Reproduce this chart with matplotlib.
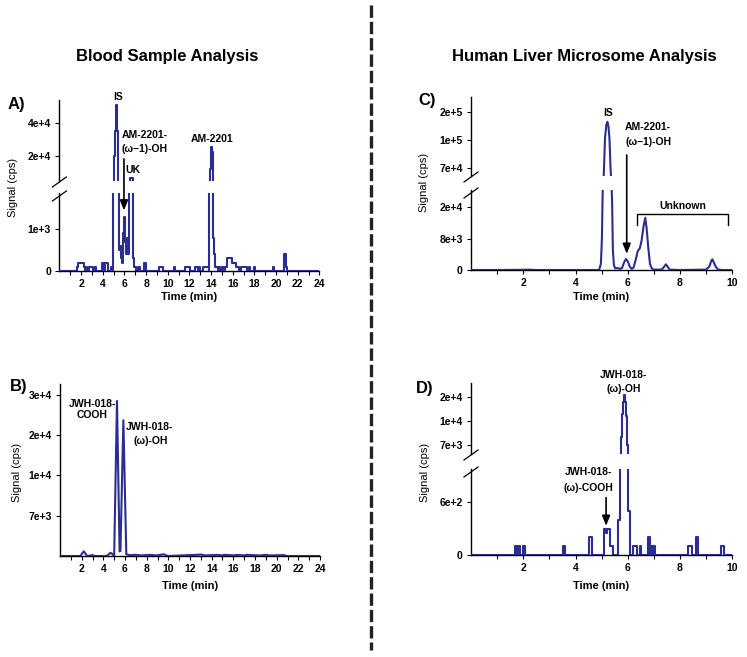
import numpy as np
import matplotlib
matplotlib.use("Agg")
import matplotlib.pyplot as plt
from matplotlib.lines import Line2D
from matplotlib.patches import ConnectionPatch
from matplotlib import font_manager

# ---------------- data ----------------
# A) blood sample, AM-2201: time where the level changes -> new level (cps)
t_a = [0.0, 1.6, 1.75, 2.25, 2.4, 2.45, 2.55, 2.75, 3.1, 3.3, 3.4,
       3.9, 4.1, 4.2, 4.45, 4.8, 4.9,
       4.98, 5.02, 5.08, 5.14, 5.22, 5.3, 5.38, 5.44,
       5.5, 5.6, 5.7, 5.8, 5.88, 5.95, 6.05, 6.12, 6.22, 6.32,
       6.42, 6.55, 6.75, 6.82, 6.9, 7.05,
       7.3, 7.4, 7.85, 8.0, 9.2, 9.6, 10.55, 10.7, 11.6, 12.1,
       12.5, 12.8, 12.9, 13.0, 13.3, 13.8,
       13.84, 13.9, 13.96, 14.02, 14.08, 14.14, 14.2, 14.3, 14.4,
       14.6, 14.7, 14.85, 15.0, 15.15, 15.3,
       15.5, 15.95, 16.3, 16.6, 16.8, 17.3, 17.5, 17.6, 17.95, 18.1,
       19.75, 19.85, 20.7, 20.95, 21.05, 24.0]
s_a = [0, 100, 200, 100, 0, 100, 0, 100, 0, 100, 0,
       200, 0, 200, 0, 100, 0,
       3000, 8000, 20000, 35000, 51000, 35000, 15000, 3000,
       500, 600, 300, 200, 900, 1300, 700, 400, 800, 400,
       3000, 6700, 3000, 300, 100, 0,
       100, 0, 200, 0, 100, 0, 100, 0, 100, 0,
       100, 0, 100, 0, 100, 0,
       3000, 12000, 22000, 25500, 22000, 12000, 800, 400, 100,
       0, 100, 0, 100, 0, 100,
       300, 200, 100, 0, 100, 0, 100, 0, 100, 0,
       100, 0, 400, 100, 0, 0]

# B) blood sample, JWH-018
t_b = [0.0, 1.9, 2.05, 2.2, 2.35, 2.5, 3.0, 3.2, 4.3, 4.5, 4.65, 4.8, 5.0,
       5.26, 5.5, 5.58, 5.85, 6.12, 6.4, 7.0, 7.5, 8.3, 8.9, 9.6, 9.8, 10.0,
       11.9, 12.5, 13.0, 13.4, 14.6, 14.9, 15.2, 16.1, 16.3, 17.0, 17.2,
       18.5, 19.0, 19.3, 20.7, 20.9, 24.0]
s_b = [0, 0, 500, 800, 400, 0, 150, 0, 0, 300, 550, 400, 0,
       28500, 800, 900, 23700, 300, 150, 200, 100, 200, 100, 300, 100, 0,
       150, 200, 250, 100, 200, 100, 200, 100, 200, 100, 200,
       100, 200, 100, 150, 0, 0]

# C) human liver microsomes, AM-2201
t_c = [0.0, 1.0, 2.3, 2.5, 4.9,
       4.97, 5.01, 5.04, 5.08, 5.13, 5.18, 5.22, 5.26, 5.3, 5.34, 5.37, 5.4, 5.43, 5.47, 5.52,
       5.6, 5.7, 5.78, 5.85, 5.93, 6.0, 6.08, 6.15,
       6.22, 6.3, 6.38, 6.46, 6.53, 6.6, 6.67, 6.72, 6.78, 6.85, 6.92, 7.0,
       7.3, 7.4, 7.46, 7.52, 7.6, 8.0,
       9.0, 9.12, 9.2, 9.24, 9.3, 9.37, 9.45, 9.6, 10.0]
s_c = [0, 0, 80, 0, 0,
       1500, 8000, 26000, 62000, 110000, 155000, 166000, 150000, 105000, 70000, 55000, 22000, 5000, 1200, 400,
       500, 300, 500, 1800, 2800, 2200, 800, 300,
       600, 2500, 4800, 5500, 7500, 12500, 15900, 12000, 6000, 1500, 400, 100,
       100, 900, 1450, 900, 100, 0,
       100, 900, 2400, 2700, 1800, 800, 150, 0, 0]

# D) human liver microsomes, JWH-018: time where the level changes -> new level
t_d = [0, 1.68, 1.75, 1.81, 1.87, 2.00, 2.06, 3.53, 3.60, 4.53, 4.63,
       5.09, 5.17, 5.22, 5.32, 5.42,
       5.62, 5.70, 5.74, 5.78, 5.82, 5.86, 5.90, 5.94, 5.98, 6.02, 6.10,
       6.20, 6.35, 6.45, 6.52, 6.77, 6.84, 6.88, 6.94, 6.97, 7.03,
       8.30, 8.45, 8.60, 8.70, 9.57, 9.70, 10.0]
s_d = [0, 100, 0, 100, 0, 100, 0, 100, 0, 200, 0,
       300, 250, 300, 100, 0,
       400, 5000, 8000, 13000, 18000, 20800, 18000, 12000, 7000, 500, 0,
       100, 0, 100, 0, 200, 0, 100, 0, 100, 0,
       100, 0, 200, 0, 100, 0, 0]

# y tick values / labels of every axis segment
ytk_a_up, ylb_a_up = [2e4, 4e4], ["2e+4", "4e+4"]
ytk_a_lo, ylb_a_lo = [0, 1e3], ["0", "1e+3"]
ytk_b, ylb_b = [7e3, 1e4, 2e4, 3e4], ["7e+3", "1e+4", "2e+4", "3e+4"]
ytk_c_up, ylb_c_up = [7e4, 1e5, 2e5], ["7e+4", "1e+5", "2e+5"]
ytk_c_lo, ylb_c_lo = [0, 8e3, 2e4], ["0", "8e+3", "2e+4"]
ytk_d_up, ylb_d_up = [7e3, 1e4, 2e4], ["7e+3", "1e+4", "2e+4"]
ytk_d_lo, ylb_d_lo = [0, 600], ["0", "6e+2"]

# ---------------- figure ----------------
plt.rcParams["font.family"] = ["Liberation Sans", "DejaVu Sans"]
W, H = 747, 657
fig = plt.figure(figsize=(W / 100, H / 100), dpi=100)
blue = "#2b2d90"
LW = 1.5

names = {f.name for f in font_manager.fontManager.ttflist}
if "Liberation Sans Narrow" in names:
    title_font, title_size = ["Liberation Sans Narrow", "Liberation Sans"], 14.5
else:
    title_font, title_size = ["Liberation Sans"], 12


def add_ax(l, t, r, b):
    # axes box given in pixels (top-left origin)
    return fig.add_axes([l / W, 1 - b / H, (r - l) / W, (b - t) / H])


def ftext(x, y, s, **kw):
    fig.text(x / W, 1 - y / H, s, **kw)


def pw_scale(ax, vals, pos):
    vals = np.asarray(vals, float)
    pos = np.asarray(pos, float)
    ax.set_yscale("function",
                  functions=(lambda y: np.interp(y, vals, pos),
                             lambda p: np.interp(p, pos, vals)))


def style(ax, xmax, bottom=True):
    ax.set_facecolor("none")
    for sp in ["top", "right"]:
        ax.spines[sp].set_visible(False)
    ax.spines["left"].set_linewidth(1.0)
    ax.spines["bottom"].set_linewidth(1.0)
    ax.set_xlim(0, xmax)
    ax.tick_params(direction="out", length=3, width=0.8, pad=3, labelsize=7.5)
    ticks = np.arange(1, xmax + 1)
    if bottom:
        ax.set_xticks(ticks, [str(int(v)) if v % 2 == 0 else "" for v in ticks],
                      fontweight="bold")
        ax.tick_params(axis="x", pad=2.5)
    else:
        ax.spines["bottom"].set_visible(False)
        ax.tick_params(axis="x", bottom=False, labelbottom=False)


def slash(x, y):
    fig.add_artist(Line2D([(x - 7) / W, (x + 7) / W], [1 - (y + 5) / H, 1 - (y - 5) / H],
                          color="black", lw=0.9))


def break_marks(x, y_up, y_lo):
    slash(x, y_up + 1)
    slash(x, y_lo + 3)


# ---- A) ----
a_up = add_ax(59.4, 100, 319.4, 181)
a_lo = add_ax(59.4, 193, 319.4, 271)
for ax in (a_up, a_lo):
    ax.plot(t_a, s_a, drawstyle="steps-post", color=blue, lw=LW, zorder=3)
style(a_up, 24, bottom=False)
style(a_lo, 24)
a_up.set_ylim(4670, 53800)
a_lo.set_ylim(0, 1870)
a_up.set_yticks(ytk_a_up, ylb_a_up, fontweight="bold")
a_lo.set_yticks(ytk_a_lo, ylb_a_lo, fontweight="bold")
break_marks(59.4, 181, 193)

# ---- B) ----
b = add_ax(60, 384, 320, 556)
pw_scale(b, [0, 7e3, 1e4, 2e4, 3e4, 4e4], [0, 1, 2, 3, 4, 5])
b.plot(t_b, s_b, color=blue, lw=LW, zorder=3)
style(b, 24)
b.set_ylim(0, 32700)
b.set_yticks(ytk_b, ylb_b, fontweight="bold")

# ---- C) ----
c_up = add_ax(471, 96.7, 732.3, 176)
c_lo = add_ax(471, 190, 732.3, 270)
pw_scale(c_up, [4e4, 7e4, 1e5, 2e5, 3e5], [-1, 0, 1, 2, 3])
pw_scale(c_lo, [0, 8e3, 2e4, 3.2e4], [0, 1, 2, 3])
for ax in (c_up, c_lo):
    ax.plot(t_c, s_c, color=blue, lw=LW, zorder=3)
style(c_up, 10, bottom=False)
style(c_lo, 10)
c_up.set_ylim(61400, 256000)
c_lo.set_ylim(0, 26500)
c_up.set_yticks(ytk_c_up, ylb_c_up, fontweight="bold")
c_lo.set_yticks(ytk_c_lo, ylb_c_lo, fontweight="bold")
break_marks(471, 176, 190)
c_lo.plot([6.37, 6.37, 9.83, 9.83], [13100, 17300, 17300, 13100], color="black", lw=1.0)

# ---- D) ----
d_up = add_ax(471, 383, 732.3, 454)
d_lo = add_ax(471, 469, 732.3, 555)
pw_scale(d_up, [4e3, 7e3, 1e4, 2e4, 3e4], [-1, 0, 1, 2, 3])
for ax in (d_up, d_lo):
    ax.plot(t_d, s_d, drawstyle="steps-post", color=blue, lw=LW, zorder=3)
style(d_up, 10, bottom=False)
style(d_lo, 10)
d_up.set_ylim(5875, 25800)
d_lo.set_ylim(0, 974)
d_up.set_yticks(ytk_d_up, ylb_d_up, fontweight="bold")
d_lo.set_yticks(ytk_d_lo, ylb_d_lo, fontweight="bold")
break_marks(471, 454, 469)

# ---- arrows ----
arrow = dict(arrowstyle="-|>,head_length=0.5,head_width=0.2", mutation_scale=12,
             color="black", lw=1.2, shrinkA=0, shrinkB=0)
fig.add_artist(ConnectionPatch(xyA=(5.96, 18000), coordsA="data", axesA=a_up,
                               xyB=(5.96, 1450), coordsB="data", axesB=a_lo, **arrow))
fig.add_artist(ConnectionPatch(xyA=(5.96, 84000), coordsA="data", axesA=c_up,
                               xyB=(5.96, 4100), coordsB="data", axesB=c_lo, **arrow))
d_lo.annotate("", xy=(5.17, 330), xytext=(5.17, 650), arrowprops=arrow,
              annotation_clip=False)

# ---- texts ----
ftext(167, 57, "Blood Sample Analysis", ha="center", va="center",
      fontweight="bold", fontsize=title_size, family=title_font)
ftext(584, 57, "Human Liver Microsome Analysis", ha="center", va="center",
      fontweight="bold", fontsize=title_size, family=title_font)

for x, y, s in [(16.7, 104, "A)"), (18.3, 386, "B)"), (427, 100, "C)"), (425, 388, "D)")]:
    ftext(x, y, s, ha="center", va="center", fontweight="bold", fontsize=12)

for x, y in [(13, 187), (17, 472), (424, 182), (425, 472)]:
    ftext(x, y, "Signal (cps)", ha="center", va="center", rotation=90, fontsize=8)

for x, y in [(189, 297), (190, 586), (601, 297), (601, 586)]:
    ftext(x, y, "Time (min)", ha="center", va="center", fontweight="bold", fontsize=8)

ann = dict(fontweight="bold", fontsize=7.5, va="center")
ftext(118, 96.5, "IS", ha="center", **ann)
ftext(121.7, 135.5, "AM-2201-", ha="left", **ann)
ftext(121.7, 149.5, "(\u03c9\u20131)-OH", ha="left", **ann)
ftext(132.5, 169.5, "UK", ha="center", **ann)
ftext(212, 139.5, "AM-2201", ha="center", **ann)

ftext(92.5, 404, "JWH-018-", ha="center", **ann)
ftext(92, 415.5, "COOH", ha="center", **ann)
ftext(149, 427, "JWH-018-", ha="center", **ann)
ftext(151, 441, "(\u03c9)-OH", ha="center", **ann)

ftext(608, 112.5, "IS", ha="center", **ann)
ftext(625, 126.5, "AM-2201-", ha="left", **ann)
ftext(625, 142, "(\u03c9\u20131)-OH", ha="left", **ann)
ftext(682.6, 206, "Unknown", ha="center", **ann)

ftext(623, 375, "JWH-018-", ha="center", **ann)
ftext(624, 389, "(\u03c9)-OH", ha="center", **ann)
ftext(588, 472, "JWH-018-", ha="center", **ann)
ftext(588, 488, "(\u03c9)-COOH", ha="center", **ann)

# dashed divider between the two halves
fig.add_artist(Line2D([371 / W, 371 / W], [1 - 5 / H, 1 - 650 / H], color="#222222",
                      lw=2.4, linestyle=(0, (3.7, 1.2))))

fig.savefig("out.png", dpi=100)
